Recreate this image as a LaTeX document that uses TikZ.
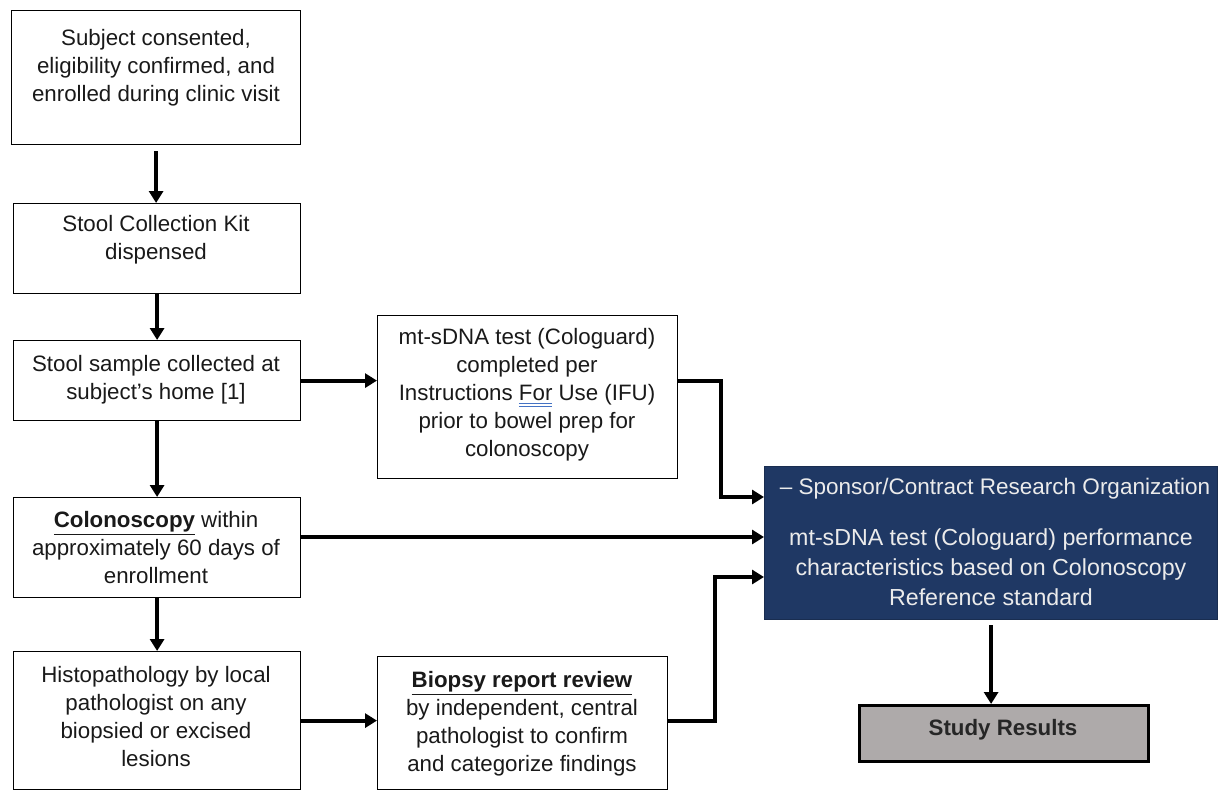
\documentclass[tikz,border=0pt]{standalone}
\usepackage{fontspec}
\setmainfont{Liberation Sans}
\usetikzlibrary{arrows.meta}
\definecolor{navy}{HTML}{1F3864}
\definecolor{resgray}{HTML}{AEAAAA}
\definecolor{spellblue}{HTML}{4472C4}
\newcommand\spellul[1]{\setbox0\hbox{#1}\rlap{\color{spellblue}\rule[-3.5pt]{\wd0}{0.8pt}}\rlap{\color{spellblue}\rule[-6.5pt]{\wd0}{0.8pt}}#1}
\begin{document}
\begin{tikzpicture}[x=1pt,y=-1pt,
  box/.style={draw=black, line width=1.2pt, inner sep=0, anchor=north west},
  txt/.style={align=center, font=\fontsize{22.3}{28}\selectfont, inner sep=0, text=black!90},
  arr/.style={line width=4pt, -{Triangle[length=12pt,width=14pt]}},
]
\useasboundingbox (0,0) rectangle (1218,790);
% boxes
\node[box, minimum width=289, minimum height=134] (b1) at (11,10) {};
\node[box, minimum width=287, minimum height=90] (b2) at (13,203) {};
\node[box, minimum width=287, minimum height=80] (b3) at (13,340) {};
\node[box, minimum width=287, minimum height=100] (b4) at (13,497) {};
\node[box, minimum width=287, minimum height=138] (b5) at (13,651) {};
\node[box, minimum width=300, minimum height=163] (ifu) at (377,315) {};
\node[box, minimum width=290, minimum height=133] (bio) at (377,656) {};
\node[box, draw=navy!80!black, fill=navy, minimum width=453, minimum height=153] (dark) at (764,466) {};
\node[box, line width=2.6pt, fill=resgray, minimum width=289, minimum height=56] (res) at (858,704) {};
% texts
\node[txt] (t1) at (156,68) {Subject consented,\\eligibility confirmed, and\\enrolled during clinic visit};
\node[txt] (t2) at (156,240) {Stool Collection Kit\\dispensed};
\node[txt] (t3) at (156,380) {Stool sample collected at\\subject’s home [1]};
\node[txt] (t4) at (156,548) {\textbf{\underline{Colonoscopy}} within\\approximately 60 days of\\enrollment};
\node[txt] (t5) at (156,717) {Histopathology by local\\pathologist on any\\biopsied or excised\\lesions};
\node[txt] (t6) at (527,395) {mt-sDNA test (Cologuard)\\completed per\\Instructions \spellul{For} Use (IFU)\\prior to bowel prep for\\colonoscopy};
\node[txt] (t7) at (522,724) {\textbf{\underline{Biopsy report review}}\\by independent, central\\pathologist to confirm\\and categorize findings};
\node[txt, font=\fontsize{22.5}{30}\selectfont, text=white!92!black] (t8) at (995,489) {– Sponsor/Contract Research Organization};
\node[txt, font=\fontsize{23.2}{30}\selectfont, text=white!92!black] (t9) at (991,567) {mt-sDNA test (Cologuard) performance\\characteristics based on Colonoscopy\\Reference standard};
\node[txt, font=\fontsize{22.3}{28}\selectfont\bfseries, text=black!85] (t10) at (1003,730) {Study Results};
% connector end points on the dark box
\coordinate (d1) at (764,497);
\coordinate (d2) at (764,537);
\coordinate (d3) at (764,577);
% connectors
\draw[arr, shorten <=6pt] (b1.south) -- (b1.south |- b2.north);
\draw[arr] (b2.south) -- (b3.north);
\draw[arr] (b3.south) -- (b4.north);
\draw[arr] (b4.south) -- (b5.north);
\draw[arr] (b3.east) -- (b3.east -| ifu.west);
\draw[arr] (b3.east -| ifu.east) -- ++(43,0) |- (d1);
\draw[arr] (b4.east |- d2) -- (d2);
\draw[arr] (b5.east) -- (b5.east -| bio.west);
\draw[arr] (bio.east |- b5.east) -- ++(47,0) |- (d3);
\draw[arr, shorten <=5pt] (dark.south) -- (dark.south |- res.north);
\end{tikzpicture}
\end{document}
